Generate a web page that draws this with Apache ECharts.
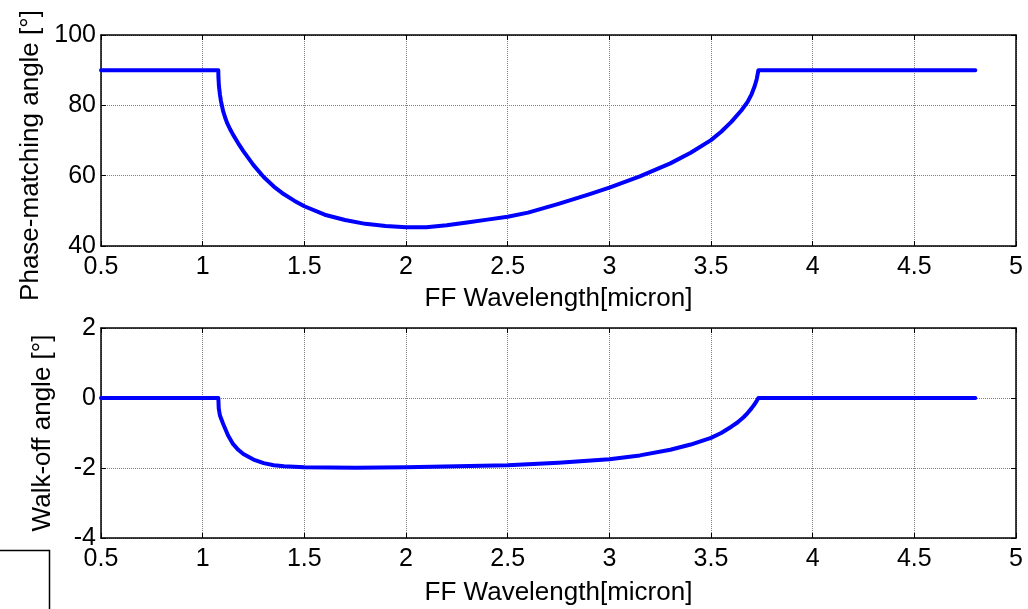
<!DOCTYPE html>
<html>
<head>
<meta charset="utf-8">
<script src="https://cdn.jsdelivr.net/npm/echarts@6/dist/echarts.min.js"></script>
<style>
  html, body { margin: 0; padding: 0; background: #fff; }
  #chart { width: 1028px; height: 609px; }
</style>
</head>
<body>
<div id="chart"></div>
<script>
  // wavelength (micron) and phase-matching angle (deg)
  var pmX = [0.5, 1.0, 1.077, 1.0775, 1.08, 1.085, 1.09, 1.1, 1.11, 1.12, 1.135, 1.15, 1.175, 1.2, 1.25, 1.3, 1.35, 1.4, 1.45, 1.5, 1.6, 1.7, 1.8, 1.9, 2.0, 2.1, 2.2, 2.3, 2.4, 2.5, 2.6, 2.75, 2.9, 3.0, 3.15, 3.3, 3.4, 3.5, 3.55, 3.6, 3.65, 3.68, 3.7, 3.715, 3.725, 3.73, 3.733, 4.0, 4.5, 4.8];
  var pmY = [90, 90, 90, 88, 85.5, 83, 81.2, 78.5, 76.6, 75, 73.2, 71.6, 69.2, 67.0, 63.0, 59.6, 56.9, 54.7, 52.9, 51.3, 48.9, 47.4, 46.3, 45.7, 45.3, 45.3, 45.9, 46.7, 47.5, 48.3, 49.5, 52.0, 54.7, 56.6, 59.8, 63.5, 66.5, 70.1, 72.5, 75.3, 78.6, 81, 83.2, 85.5, 87.5, 89, 90, 90, 90, 90];

  // walk-off angle (deg)
  var woX = [0.5, 1.0, 1.077, 1.079, 1.085, 1.1, 1.125, 1.15, 1.175, 1.2, 1.25, 1.3, 1.35, 1.4, 1.5, 1.75, 2.0, 2.25, 2.5, 2.75, 3.0, 3.15, 3.3, 3.4, 3.5, 3.55, 3.6, 3.63, 3.66, 3.68, 3.7, 3.715, 3.725, 3.733, 4.0, 4.5, 4.8];
  var woY = [0, 0, 0, -0.3, -0.5, -0.73, -1.07, -1.32, -1.48, -1.6, -1.76, -1.86, -1.92, -1.95, -1.98, -1.99, -1.98, -1.95, -1.92, -1.85, -1.75, -1.64, -1.48, -1.33, -1.14, -1.0, -0.82, -0.7, -0.55, -0.43, -0.29, -0.17, -0.08, 0, 0, 0, 0];

  var xTicks = [0.5, 1, 1.5, 2, 2.5, 3, 3.5, 4, 4.5, 5];
  var pmTicks = [40, 60, 80, 100];
  var woTicks = [-4, -2, 0, 2];

  var FONT = '"Liberation Sans", Arial, sans-serif';

  function pairs (xs, ys) {
    return xs.map(function (x, i) { return [x, ys[i]]; });
  }

  var chart = echarts.init(document.getElementById('chart'));

  function xAx (gridIndex, pos, gap) {
    var main = pos === 'bottom';
    return {
      type: 'value',
      gridIndex: gridIndex,
      position: pos,
      min: xTicks[0],
      max: xTicks[xTicks.length - 1],
      interval: 0.5,
      name: main ? 'FF Wavelength[micron]' : '',
      nameLocation: 'middle',
      nameGap: gap,
      nameTextStyle: { fontFamily: FONT, fontSize: 26, color: '#000' },
      axisLine: { show: true, onZero: false, lineStyle: { color: '#000', width: 1.5 } },
      axisTick: { show: true, inside: true, length: 5, lineStyle: { color: '#000' } },
      axisLabel: {
        show: main, margin: 9, fontFamily: FONT, fontSize: 25, color: '#000',
        formatter: function (v) { return String(v); }
      },
      splitLine: { show: main, lineStyle: { color: '#808080', type: 'dotted', width: 1 } }
    };
  }

  function yAx (gridIndex, pos, ticks, title, gap, pad) {
    var main = pos === 'left';
    return {
      type: 'value',
      gridIndex: gridIndex,
      position: pos,
      min: ticks[0],
      max: ticks[ticks.length - 1],
      interval: ticks[1] - ticks[0],
      name: main ? title : '',
      nameLocation: 'middle',
      nameGap: gap,
      nameTextStyle: { fontFamily: FONT, fontSize: 26, color: '#000', padding: pad },
      axisLine: { show: true, onZero: false, lineStyle: { color: '#000', width: 1.5 } },
      axisTick: { show: true, inside: true, length: 5, lineStyle: { color: '#000' } },
      axisLabel: { show: main, margin: 5, fontFamily: FONT, fontSize: 25, color: '#000' },
      splitLine: { show: main, lineStyle: { color: '#808080', type: 'dotted', width: 1 } }
    };
  }

  chart.setOption({
    backgroundColor: '#fff',
    animation: false,
    grid: [
      { left: 101, top: 35, width: 915, height: 211 },
      { left: 101, top: 328, width: 915, height: 210 }
    ],
    xAxis: [
      xAx(0, 'bottom', 40),
      xAx(1, 'bottom', 42),
      xAx(0, 'top', 0),
      xAx(1, 'top', 0)
    ],
    yAxis: [
      yAx(0, 'left', pmTicks, 'Phase-matching angle [°]', 55, [0, 30, 0, 0]),
      yAx(1, 'left', woTicks, 'Walk-off angle [°]', 45, 0),
      yAx(0, 'right', pmTicks, '', 0, 0),
      yAx(1, 'right', woTicks, '', 0, 0)
    ],
    series: [
      {
        type: 'line',
        xAxisIndex: 0,
        yAxisIndex: 0,
        data: pairs(pmX, pmY),
        showSymbol: false,
        lineStyle: { color: '#0000ff', width: 4, join: 'round', cap: 'round' }
      },
      {
        type: 'line',
        xAxisIndex: 1,
        yAxisIndex: 1,
        data: pairs(woX, woY),
        showSymbol: false,
        lineStyle: { color: '#0000ff', width: 4, join: 'round', cap: 'round' }
      }
    ],
    graphic: [
      {
        type: 'polyline',
        shape: { points: [[0, 550.5], [49.5, 550.5], [49.5, 609]] },
        style: { stroke: '#000', lineWidth: 1.5, fill: null }
      }
    ]
  });
</script>
</body>
</html>
